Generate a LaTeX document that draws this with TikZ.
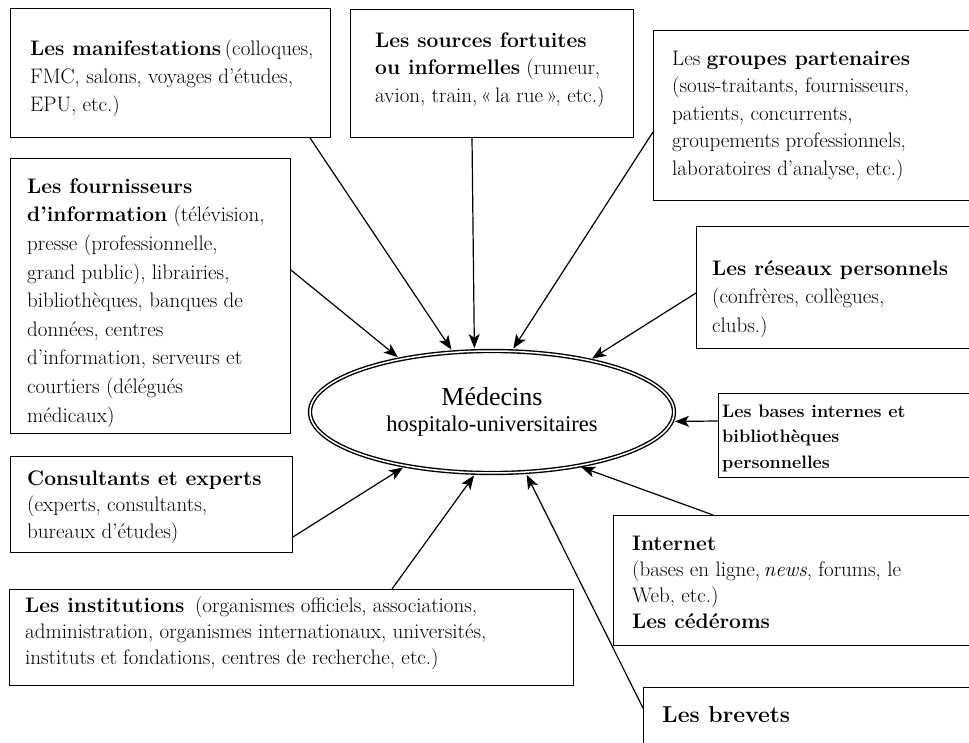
\documentclass[tikz,border=0pt]{standalone}
\usepackage{fontspec}
\newfontfamily\timesf{Liberation Serif}
\usetikzlibrary{shapes.geometric,arrows.meta}
\begin{document}
\begin{tikzpicture}[x=1pt,y=-1pt,
  box/.style={draw,line width=0.9pt,rectangle,anchor=north west,inner sep=0pt},
  txt/.style={anchor=north west,align=left,inner sep=0pt,font=\fontsize{21}{#1}\selectfont},
  txt/.default=28,
  ell/.style={ellipse,draw,double,double distance=1.5pt,line width=1.4pt,
    minimum width=364pt,minimum height=122pt,inner sep=0pt,align=center,
    font=\timesf\fontsize{22.5}{26}\selectfont},
  arr/.style={-{Stealth[length=14pt,width=11pt,inset=3.5pt]},line width=1.2pt,shorten >=2.5pt}
]
\useasboundingbox (0,0) rectangle (969,743);
\clip (0,0) rectangle (969,743);

% boxes
\node[box,minimum width=320pt,minimum height=129pt] (b1) at (10,8) {};
\node[box,minimum width=283pt,minimum height=128pt] (b2) at (350,9) {};
\node[box,minimum width=330pt,minimum height=170pt] (b3) at (653,30) {};
\node[box,minimum width=280pt,minimum height=275pt] (b4) at (10,158) {};
\node[box,minimum width=290pt,minimum height=122pt] (b5) at (696,226) {};
\node[box,minimum width=270pt,minimum height=84pt] (b6) at (718,393) {};
\node[box,minimum width=282pt,minimum height=96pt] (b7) at (10,456) {};
\node[box,minimum width=564pt,minimum height=96pt] (b8) at (9,589) {};
\node[box,minimum width=370pt,minimum height=130pt] (b9) at (613,515) {};
\node[box,minimum width=340pt,minimum height=80pt] (b10) at (643,687) {};

% texts
\node[txt] (t1) at (30,35.4) {\strut\textbf{Les manifestations}\,(colloques,\\FMC, salons, voyages d’études,\\EPU, etc.)};
\node[txt=27.5] (t2) at (375,27.75) {\strut\textbf{Les sources fortuites}\\\textbf{ou informelles} (rumeur,\\avion, train,\,«\,la rue\,», etc.)};
\node[txt=27.5] (t3) at (672,45.75) {\strut Les \textbf{groupes partenaires}\\(sous-traitants, fournisseurs,\\patients, concurrents,\\groupements professionnels,\\laboratoires d’analyse, etc.)};
\node[txt=28.6] (t4) at (27,173) {\strut\textbf{Les fournisseurs}\\\textbf{d’information} (télévision,\\presse (professionnelle,\\grand public), librairies,\\bibliothèques, banques de\\données, centres\\d’information, serveurs et\\courtiers (délégués\\médicaux)};
\node[txt=28.5] (t5) at (712,255) {\strut\textbf{Les réseaux personnels}\\(confrères, collègues,\\clubs.)};
\node[anchor=north west,align=left,inner sep=0pt,font=\fontsize{18}{25.5}\selectfont\bfseries] (t6) at (722,399) {\strut Les bases internes et\\bibliothèques\\personnelles};
\node[txt=26.5] (t7) at (27,466.5) {\strut\textbf{Consultants et experts}\\(experts, consultants,\\bureaux d’études)};
\node[txt=26] (t8) at (25,594) {\strut\textbf{Les institutions}\enspace(organismes officiels, associations,\\administration, organismes internationaux, universités,\\instituts et fondations, centres de recherche, etc.)};
\node[txt=26] (t9) at (632,532) {\strut\textbf{Internet}\\(bases en ligne,\,\textit{news}, forums, le\\Web, etc.)\\\textbf{Les cédéroms}};
\node[anchor=north west,inner sep=0pt,font=\fontsize{23}{28}\selectfont\bfseries] (t10) at (662,702.4) {\strut Les brevets};

% central ellipse
\node[ell] (med) at (492,412) {{\fontsize{26}{30}\selectfont Médecins}\\{hospitalo-universitaires}};

% arrows
\draw[arr] ([xshift=300pt]b1.south west) -- (med.123.7);
\draw[arr] ([xshift=122pt]b2.south west) -- (med.106.4);
\draw[arr] ([yshift=-102pt]b3.north west) -- (med.72.8);
\draw[arr] ([yshift=-112pt]b4.north east) -- (med.150.8);
\draw[arr] ([yshift=-67pt]b5.north west) -- (med.28.8);
\draw[arr] ([yshift=-28pt]b6.north west) -- (med.-3);
\draw[arr] ([yshift=-81pt]b7.north east) -- (med.-148.7);
\draw[arr] ([xshift=383pt]b8.north west) -- (med.-105.7);
\draw[arr] ([xshift=100pt]b9.north west) -- (med.-32.4);
\draw[arr] ([yshift=-21pt]b10.north west) -- (med.-61);
\end{tikzpicture}
\end{document}
